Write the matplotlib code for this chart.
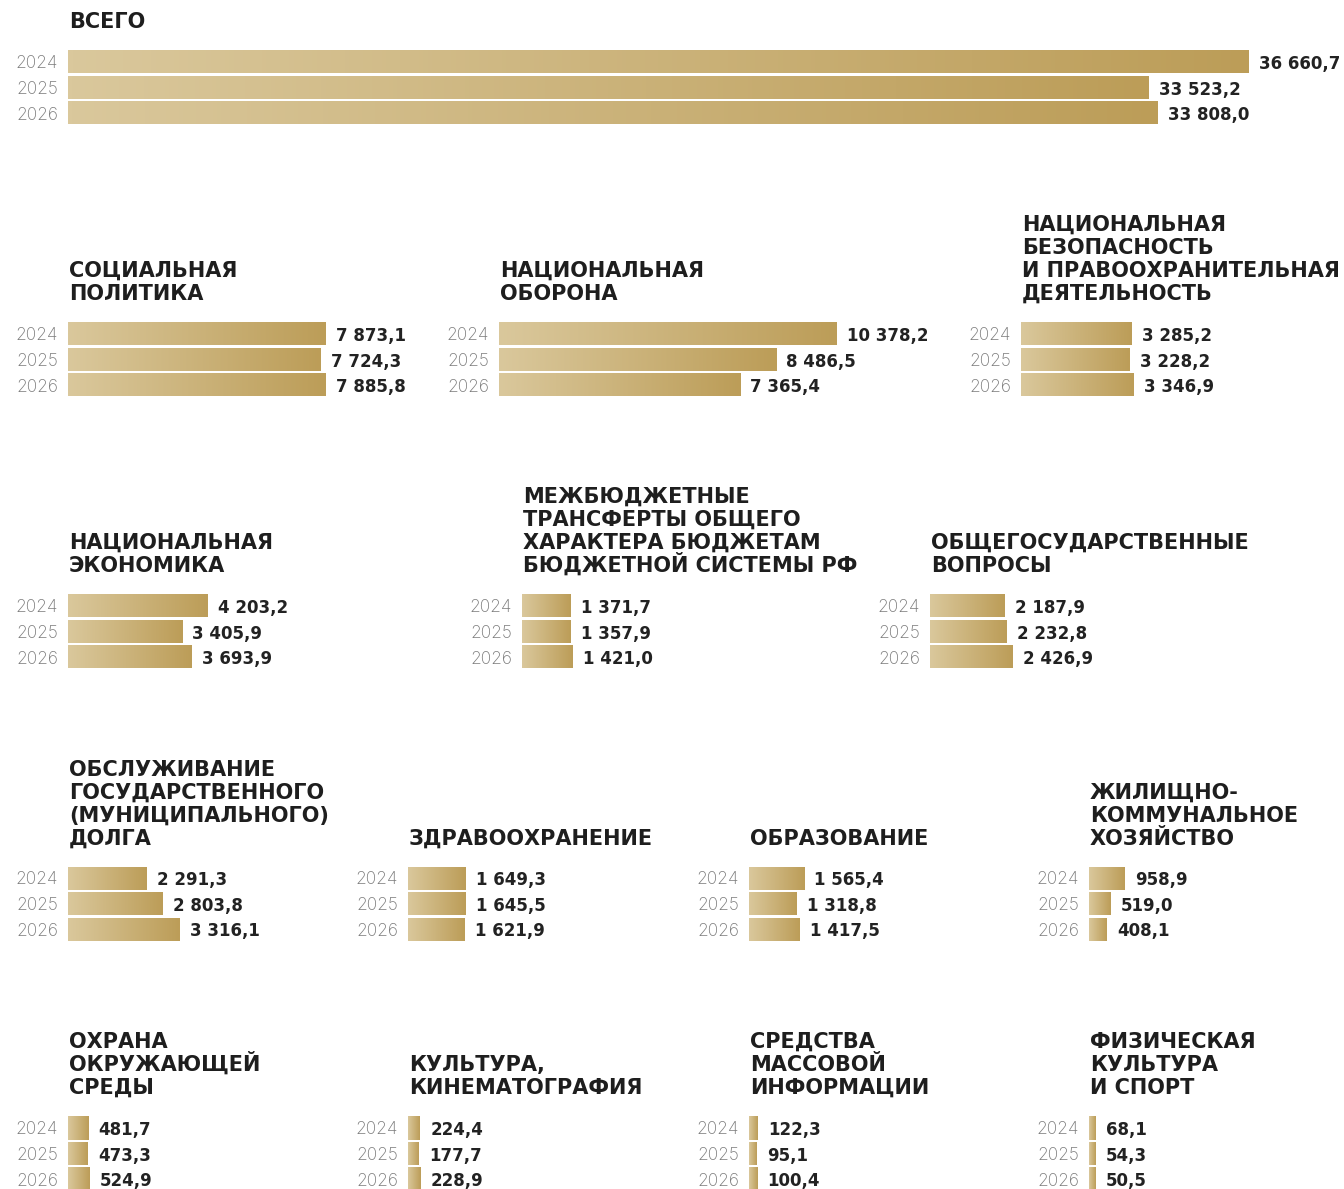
import matplotlib.pyplot as plt
import numpy as np
from matplotlib.colors import LinearSegmentedColormap

W, H = 1344, 1189
years = ['2024', '2025', '2026']

# расходы федерального бюджета, млрд руб.
total = [36660.7, 33523.2, 33808.0]
social = [7873.1, 7724.3, 7885.8]
defense = [10378.2, 8486.5, 7365.4]
security = [3285.2, 3228.2, 3346.9]
economy = [4203.2, 3405.9, 3693.9]
transfers = [1371.7, 1357.9, 1421.0]
general = [2187.9, 2232.8, 2426.9]
debt = [2291.3, 2803.8, 3316.1]
health = [1649.3, 1645.5, 1621.9]
education = [1565.4, 1318.8, 1417.5]
housing = [958.9, 519.0, 408.1]
environment = [481.7, 473.3, 524.9]
culture = [224.4, 177.7, 228.9]
media = [122.3, 95.1, 100.4]
sport = [68.1, 54.3, 50.5]

# (title, values, bar left px, first bar centre px, title baseline px)
panels = [
    ('ВСЕГО', total, 68, 62, 28),
    ('СОЦИАЛЬНАЯ\nПОЛИТИКА', social, 68, 334, 300),
    ('НАЦИОНАЛЬНАЯ\nОБОРОНА', defense, 499, 334, 300),
    ('НАЦИОНАЛЬНАЯ\nБЕЗОПАСНОСТЬ\nИ ПРАВООХРАНИТЕЛЬНАЯ\nДЕЯТЕЛЬНОСТЬ', security, 1021, 334, 300),
    ('НАЦИОНАЛЬНАЯ\nЭКОНОМИКА', economy, 68, 606, 572),
    ('МЕЖБЮДЖЕТНЫЕ\nТРАНСФЕРТЫ ОБЩЕГО\nХАРАКТЕРА БЮДЖЕТАМ\nБЮДЖЕТНОЙ СИСТЕМЫ РФ', transfers, 522, 606, 572),
    ('ОБЩЕГОСУДАРСТВЕННЫЕ\nВОПРОСЫ', general, 930, 606, 572),
    ('ОБСЛУЖИВАНИЕ\nГОСУДАРСТВЕННОГО\n(МУНИЦИПАЛЬНОГО)\nДОЛГА', debt, 68, 878, 845),
    ('ЗДРАВООХРАНЕНИЕ', health, 408, 878, 845),
    ('ОБРАЗОВАНИЕ', education, 749, 878, 845),
    ('ЖИЛИЩНО-\nКОММУНАЛЬНОЕ\nХОЗЯЙСТВО', housing, 1089, 878, 845),
    ('ОХРАНА\nОКРУЖАЮЩЕЙ\nСРЕДЫ', environment, 68, 1128, 1094),
    ('КУЛЬТУРА,\nКИНЕМАТОГРАФИЯ', culture, 408, 1128, 1094),
    ('СРЕДСТВА\nМАССОВОЙ\nИНФОРМАЦИИ', media, 749, 1128, 1094),
    ('ФИЗИЧЕСКАЯ\nКУЛЬТУРА\nИ СПОРТ', sport, 1089, 1128, 1094),
]

scale = 0.03208          # px per unit, common for all panels
stub = 4.8 / scale       # small base stub every bar starts with
pitch = 25.5
bar_h = 23 / pitch
line_px = 23

gold = LinearSegmentedColormap.from_list('gold', ['#dac89c', '#bc9d58'])
grad = np.linspace(0, 1, 256).reshape(1, -1)

fam = ['DejaVu Sans']
fam_light = ['Inter', 'DejaVu Sans']


def fmt(v):
    return f'{v:,.1f}'.replace(',', ' ').replace('.', ',')


fig = plt.figure(figsize=(W / 100, H / 100), dpi=100)

for title, vals, left, c0, base in panels:
    ax_w = 1260 if title == 'ВСЕГО' else 420
    top = c0 - pitch / 2
    ax = fig.add_axes([left / W, 1 - (top + 3 * pitch) / H, ax_w / W, 3 * pitch / H])
    for i, v in enumerate(vals):
        ax.imshow(grad, cmap=gold, aspect='auto',
                  extent=(-stub, v, i + bar_h / 2, i - bar_h / 2), zorder=2)
        ax.annotate(fmt(v), (v, i), xytext=(7.5, 0), textcoords='offset points',
                    va='center_baseline', ha='left', fontsize=12, fontweight='bold',
                    color='#222222', family=fam, annotation_clip=False)
    ax.set_xlim(-stub, ax_w / scale - stub)
    ax.set_ylim(2.5, -0.5)
    ax.set_yticks(range(3))
    ax.set_yticklabels(years, color='#7a7a7a', fontsize=12.5, family=fam_light, fontweight='light')
    ax.tick_params(axis='y', length=0, pad=7)
    ax.set_xticks([])
    for s in ax.spines.values():
        s.set_visible(False)
    ax.patch.set_alpha(0)

    lines = title.split('\n')
    n = len(lines)
    for k, line in enumerate(lines):
        y = base - (n - 1 - k) * line_px
        fig.text((left + 1) / W, 1 - y / H, line, ha='left', va='baseline',
                 fontsize=15, fontweight='bold', color='#1e1e1e', family=fam)

fig.savefig('out.png', dpi=100)
